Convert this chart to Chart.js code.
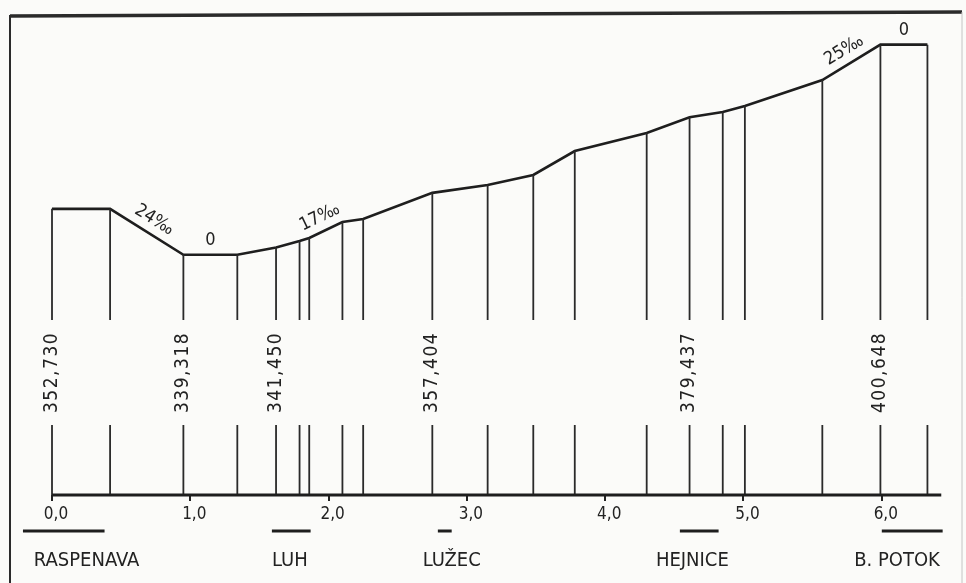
<!DOCTYPE html>
<html>
<head>
<meta charset="utf-8">
<title>Podélný profil trati Raspenava – Bílý Potok</title>
<script src="https://cdn.jsdelivr.net/npm/chart.js@4"></script>
<style>
  html, body { margin: 0; padding: 0; background: #fbfbf9; }
  #wrap { width: 966px; height: 583px; position: relative; }
</style>
</head>
<body>
<div id="wrap"><canvas id="profile"></canvas></div>
<script>
// breakpoints of the profile: chainage in km, elevation in m
const chainage  = [0.00, 0.42, 0.95, 1.34, 1.62, 1.79, 1.86, 2.10, 2.25, 2.75,
                   3.15, 3.48, 3.78, 4.30, 4.61, 4.85, 5.01, 5.57, 5.99, 6.33];
const elevation = [352.73, 352.73, 339.318, 339.318, 341.45, 343.35, 344.23, 348.89, 349.77, 357.404,
                   359.69, 362.61, 369.61, 374.86, 379.437, 380.99, 382.74, 390.33, 400.648, 400.648];

// written elevations on the posts
const elevLabelAt = [0, 2, 4, 9, 14, 18];
const elevLabels  = ['352,730', '339,318', '341,450', '357,404', '379,437', '400,648'];

// gradients written above segments (segment i -> i+1)
const gradeSeg  = [1, 2, 6, 17, 18];
const gradeText = ['24‰', '0', '17‰', '25‰', '0'];

const kmTicks = [0, 1, 2, 3, 4, 5, 6];
const trackEnd = 6.43;

// stations
const stations      = ['RASPENAVA', 'LUH', 'LUŽEC', 'HEJNICE', 'B. POTOK'];
const stationFrom   = [-0.21, 1.59, 2.79, 4.54, 6.00];
const stationTo     = [0.38, 1.87, 2.89, 4.82, 6.44];
const stationNameAt = [0.25, 1.72, 2.89, 4.63, 6.11];

const FONT = "'DejaVu Sans Condensed', 'DejaVu Sans', sans-serif";
const INK = '#222';

const profilePlugin = {
  id: 'profile',
  beforeDraw(chart) {
    const { ctx, width, height } = chart;
    ctx.save();
    ctx.fillStyle = '#fbfbf9';
    ctx.fillRect(0, 0, width, height);
    ctx.restore();
  },
  afterDatasetsDraw(chart) {
    const { ctx, chartArea: a, scales: { x, y } } = chart;
    const gapTop = a.bottom - 175, gapBot = a.bottom - 70;
    ctx.save();

    // posts at each breakpoint, broken where the elevation is written
    ctx.strokeStyle = '#2a2a2a';
    ctx.lineWidth = 1.8;
    chainage.forEach((km, i) => {
      const px = x.getPixelForValue(km);
      ctx.beginPath();
      ctx.moveTo(px, y.getPixelForValue(elevation[i]));
      ctx.lineTo(px, gapTop);
      ctx.moveTo(px, gapBot);
      ctx.lineTo(px, a.bottom);
      ctx.stroke();
    });

    // base line
    ctx.strokeStyle = '#1e1e1e';
    ctx.lineWidth = 3;
    ctx.beginPath();
    ctx.moveTo(x.getPixelForValue(0), a.bottom);
    ctx.lineTo(x.getPixelForValue(trackEnd), a.bottom);
    ctx.stroke();

    // elevations, read bottom to top
    ctx.fillStyle = INK;
    ctx.font = '19px ' + FONT;
    ctx.letterSpacing = '1.5px';
    ctx.textAlign = 'left';
    ctx.textBaseline = 'middle';
    elevLabelAt.forEach((idx, k) => {
      ctx.save();
      ctx.translate(x.getPixelForValue(chainage[idx]), a.bottom - 82);
      ctx.rotate(-Math.PI / 2);
      ctx.fillText(elevLabels[k], 0, 0);
      ctx.restore();
    });
    ctx.letterSpacing = '0px';

    // gradients along the line
    ctx.font = '18px ' + FONT;
    ctx.textAlign = 'center';
    gradeSeg.forEach((i, k) => {
      const x1 = x.getPixelForValue(chainage[i]), y1 = y.getPixelForValue(elevation[i]);
      const x2 = x.getPixelForValue(chainage[i + 1]), y2 = y.getPixelForValue(elevation[i + 1]);
      ctx.save();
      ctx.translate((x1 + x2) / 2, (y1 + y2) / 2);
      ctx.rotate(Math.atan2(y2 - y1, x2 - x1));
      ctx.fillText(gradeText[k], 0, -14);
      ctx.restore();
    });

    // station extents and names
    ctx.strokeStyle = '#1e1e1e';
    ctx.lineWidth = 3;
    ctx.font = '20px ' + FONT;
    stations.forEach((name, k) => {
      ctx.beginPath();
      ctx.moveTo(x.getPixelForValue(stationFrom[k]), a.bottom + 36);
      ctx.lineTo(x.getPixelForValue(stationTo[k]), a.bottom + 36);
      ctx.stroke();
      ctx.fillText(name, x.getPixelForValue(stationNameAt[k]), a.bottom + 66);
    });

    // frame
    ctx.strokeStyle = '#2b2b2b';
    ctx.lineWidth = 2;
    ctx.beginPath();
    ctx.moveTo(a.left, a.top);
    ctx.lineTo(a.left, chart.height);
    ctx.stroke();
    ctx.lineWidth = 3.5;
    ctx.beginPath();
    ctx.moveTo(a.left, a.top + 1);
    ctx.lineTo(chart.width - 4, a.top - 3);
    ctx.stroke();
    ctx.strokeStyle = '#c4c4c4';
    ctx.lineWidth = 1;
    ctx.beginPath();
    ctx.moveTo(chart.width - 4, a.top - 3);
    ctx.lineTo(chart.width - 4, chart.height);
    ctx.stroke();

    ctx.restore();
  }
};

new Chart(document.getElementById('profile'), {
  type: 'line',
  data: {
    datasets: [{
      data: chainage.map((km, i) => ({ x: km, y: elevation[i] })),
      borderColor: '#1e1e1e',
      borderWidth: 2.6,
      pointRadius: 0,
      tension: 0,
      fill: false
    }]
  },
  options: {
    responsive: true,
    maintainAspectRatio: false,
    animation: false,
    layout: { padding: { left: 10, top: 15, right: 8, bottom: 0 } },
    plugins: { legend: { display: false }, tooltip: { enabled: false } },
    scales: {
      x: {
        type: 'linear',
        min: -0.3037,
        max: 6.551,
        afterBuildTicks: s => { s.ticks = kmTicks.map(v => ({ value: v })); },
        afterFit: s => { s.height = 88; },
        border: { display: false },
        grid: { drawOnChartArea: false, drawTicks: true, tickLength: 6, color: '#222', lineWidth: 2 },
        ticks: {
          color: INK,
          font: { family: FONT, size: 17 },
          padding: 3,
          labelOffset: 4,
          maxRotation: 0,
          autoSkip: false,
          callback: v => v.toFixed(1).replace('.', ',')
        }
      },
      y: {
        type: 'linear',
        display: false,
        min: 269.23,
        max: 409.30
      }
    }
  },
  plugins: [profilePlugin]
});
</script>
</body>
</html>
